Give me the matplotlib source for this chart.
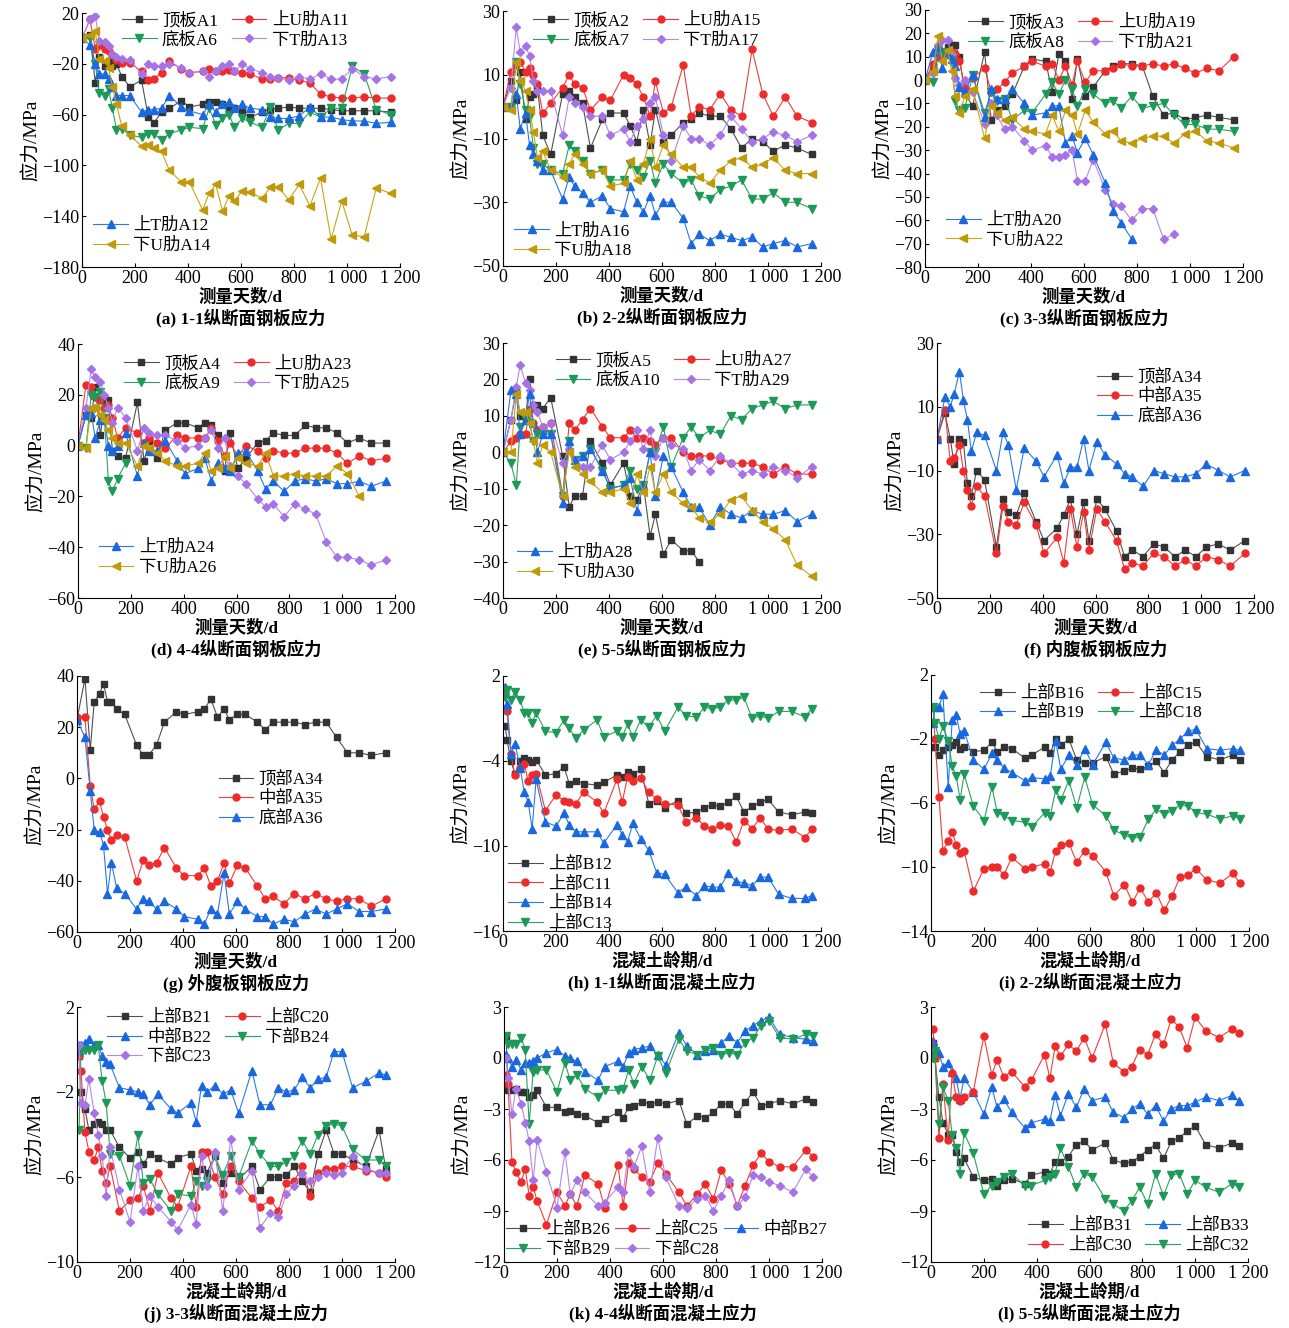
import matplotlib
matplotlib.use("Agg")
import matplotlib.pyplot as plt

plt.rcParams['font.family'] = ['Liberation Serif', 'Noto Sans CJK SC']
plt.rcParams['axes.unicode_minus'] = True

# 测量天数 (钢板)
D = [0, 30, 50, 65, 85, 100, 115, 130, 150, 180,
     225, 250, 270, 300, 330, 375, 405, 455, 480, 505,
     530, 555, 575, 605, 635, 680, 710, 740, 780, 820,
     860, 900, 940, 980, 1020, 1065, 1110, 1165]
# 混凝土龄期
C = [8, 15, 30, 45, 65, 80, 95, 110, 125, 160,
     200, 230, 250, 275, 305, 355, 380, 430, 450, 470,
     490, 520, 550, 580, 610, 660, 690, 730, 760, 790,
     820, 850, 880, 910, 940, 970, 1000, 1040, 1090, 1140,
     1165]

# (a)
A1 = [0, 3, -35, -15, -22, -18, -22, -20, -30, -38,
      -33, -62, -67, -58, -55, -49, -54, -52, -50, -50,
      -52, -55, -55, -58, -62, -58, -56, -55, -54, -55,
      -55, -55, -56, -57, -57, -57, -57, -58]
A11 = [0, 15, -8, -5, -8, -10, -13, -17, -19, -19,
       -26, -33, -32, -27, -18, -24, -27, -26, -24, -26,
       -26, -25, -26, -27, -28, -32, -32, -31, -31, -33,
       -35, -44, -46, -47, -47, -46, -47, -47]
A6 = [0, 0, -20, -43, -45, -40, -55, -72, -71, -76,
      -78, -75, -75, -80, -75, -72, -70, -71, -55, -68,
      -63, -60, -70, -63, -66, -70, -54, -72, -67, -67,
      -58, -62, -55, -55, -22, -28, -56, -60]
A13 = [0, 15, 18, -2, -3, -6, -12, -15, -16, -17,
       -28, -20, -22, -22, -20, -23, -27, -26, -30, -26,
       -22, -20, -26, -20, -24, -27, -30, -31, -33, -30,
       -32, -28, -32, -32, -24, -30, -32, -30]
A12 = [0, -5, -20, -28, -28, -32, -38, -45, -45, -45,
       -58, -56, -56, -55, -45, -54, -57, -60, -52, -58,
       -52, -50, -55, -52, -55, -56, -62, -63, -63, -61,
       -54, -62, -62, -64, -65, -65, -67, -66]
A14 = [0, 3, 6, -16, -18, -23, -38, -52, -69, -76,
       -85, -84, -86, -89, -104, -113, -113, -135, -122, -115,
       -136, -124, -128, -120, -121, -126, -117, -117, -127, -115,
       -132, -110, -158, -128, -155, -156, -118, -122]
# (b)
A2 = [0, 8, 2, 11, -4, 3, 4, 6, -9, -15,
      4, 5, 3, 1, -13, -4, -2, -2, -6, -11,
      -1, -12, -1, -11, -9, -5, -4, -2, -3, -3,
      -7, -13, -10, -11, -14, -12, -13, -15]
A15 = [0, 11, 13, 14, 11, 12, 10, 7, -2, 1,
       6, 10, 7, 6, -1, 3, 2, 10, 9, 7,
       3, -3, 8, -2, 0, 13, -3, 0, -1, 4,
       -1, -3, 18, 4, -3, 3, -3, -5]
A7 = [0, 0, 14, 7, -1, -3, -13, -18, -18, -20,
      -21, -12, -14, -17, -21, -20, -23, -23, -18, -20,
      -22, -17, -24, -18, -21, -24, -23, -28, -29, -26,
      -25, -23, -29, -29, -27, -30, -30, -32]
A17 = [0, 6, 25, 17, 19, 16, 8, 5, 5, 5,
       -9, 3, 1, 0, -3, -3, -9, -7, -11, -6,
       -4, 1, 3, -9, -17, -6, -10, -10, -12, -9,
       -3, -7, -11, -10, -8, -9, -11, -9]
A16 = [0, 0, 4, -7, -2, -12, -15, -17, -20, -20,
       -29, -22, -25, -27, -30, -28, -32, -33, -25, -30,
       -33, -28, -34, -30, -30, -35, -43, -40, -42, -40,
       -41, -42, -41, -44, -43, -42, -44, -43]
A18 = [0, -1, 14, 8, 5, -1, -8, -16, -14, -20,
       -22, -18, -15, -18, -21, -20, -25, -24, -17, -23,
       -18, -10, -19, -12, -15, -19, -19, -22, -24, -20,
       -17, -16, -19, -18, -16, -20, -21, -21]
# (c)
A3 = [0, 5, 10, 12, 14, 15, 15, 10, -6, -11,
      12, -17, -13, -11, -6, 6, 9, 8, -5, 11,
      8, -8, 9, -7, -3, 4, 6, 7, 7, 6,
      -7, -15, -14, -17, -16, -15, -16, -17]
A19 = [0, 7, 10, 11, 12, 12, 11, 8, -3, 1,
       5, -5, -4, -1, 3, 6, 8, 6, 7, 0,
       6, -2, 8, -1, 4, 4, 5, 7, 6, 6,
       7, 6, 7, 5, 3, 5, 4, 10]
A8 = [0, -1, 13, 12, 11, 8, -9, -13, -12, 2,
      -14, -5, -9, -8, -17, -13, -14, -6, -1, -6,
      0, -4, -11, -4, -6, -10, -9, -12, -7, -12,
      -11, -10, -15, -19, -19, -21, -21, -22]
A21 = [0, 3, 15, 17, 17, 11, 1, -2, 0, -5,
       -19, -10, -15, -21, -20, -26, -30, -28, -33, -33,
       -32, -30, -43, -43, -34, -47, -53, -54, -60, -55,
       -55, -68, -66]
A20 = [0, 12, 14, 5, 11, 9, 6, -3, -5, 2,
       -16, -4, -8, -8, -4, -10, -15, -14, -11, -11,
       -27, -24, -31, -25, -32, -44, -56, -61, -68]
A22 = [0, 4, 19, 8, 13, 4, -7, -14, -7, -4,
       -25, -11, -14, -17, -16, -21, -22, -23, -15, -22,
       -13, -15, -23, -13, -18, -23, -22, -26, -27, -25,
       -24, -24, -27, -23, -22, -26, -27, -29]
# (d)
A4 = [0, 12, 11, 23, 4, 18, 18, -2, -4, -5,
      17, -6, 2, -5, 6, 9, 9, 7, 9, 8,
      4, -10, 5, -9, -5, 1, 2, 5, 4, 4,
      8, 7, 7, 5, 1, 3, 1, 1]
A23 = [0, 24, 23, 19, 18, 15, 16, 11, 3, 7,
       5, 1, 3, 1, -1, 4, 3, 3, 3, 7,
       2, -4, 1, -4, 0, -2, -5, -2, -3, -3,
       -1, -1, -1, -3, -7, -4, -6, -5]
A9 = [0, -1, 20, 19, 21, 11, -14, -18, -13, -7]
A25 = [0, 15, 30, 27, 25, 20, 15, 9, 15, 11,
       -2, 7, 5, 4, 4, 2, -1, 0, 3, 6,
       -1, 3, -8, -12, -15, -21, -24, -23, -28, -23,
       -25, -27, -38, -44, -44, -45, -47, -45]
A24 = [0, 12, 13, 3, 10, 11, 0, -2, 0, 5,
       -12, 1, -2, -2, 2, -6, -11, -9, -5, -14,
       -7, -9, -10, -3, -2, -10, -17, -14, -18, -14,
       -13, -14, -13, -15, -15, -14, -16, -14]
A26 = [0, -1, 15, 15, 12, 10, 6, 3, 1, 1,
       -8, 0, -1, -3, -6, -8, -8, -7, -3, -10,
       -9, -4, -9, -5, -7, -8, -3, -12, -12, -11,
       -12, -12, -12, -8, -11, -20]
# (e)
A5 = [0, 9, 17, 10, 9, 20, 13, 13, 12, 15,
      -1, -15, -12, -12, 3, -3, -9, -3, -12, -13,
      -9, -23, -17, -28, -24, -27, -27, -30]
A27 = [0, 3, 4, 5, 5, 12, 8, 6, 7, 8,
       -12, 8, 6, 9, 12, 7, 4, 4, 6, 4,
       4, 3, 2, 4, 4, 0, -1, -1, -1, -2,
       -3, -3, -3, -4, -6, -4, -6, -6]
A10 = [0, -3, -9, 7, 9, 8, 3, 5, 5, 5,
       -12, 3, -2, -1, 1, -5, -10, -9, -5, -10,
       -9, 0, 0, 7, -4, 4, 7, 4, 6, 5,
       10, 9, 12, 13, 14, 12, 13, 13]
A29 = [0, 9, 18, 24, 19, 17, 13, 11, 7, 8,
       -3, 1, -2, -4, -4, 2, -2, 0, 3, 6,
       1, 6, -1, 4, 2, 1, -5, -2, -5, -1,
       -3, -6, -5, -6, -4, -5, -7, -4]
A28 = [0, 17, 16, 5, 9, 16, 8, 0, 5, 5,
       -14, 3, -2, -1, 1, -5, -10, -9, -7, -16,
       -9, 0, -12, -1, -4, -11, -15, -15, -20, -15,
       -17, -18, -16, -17, -17, -16, -19, -17]
A30 = [0, 0, 16, 11, 11, 8, 3, -3, 2, 0,
       -12, 0, -4, -6, -8, -11, -11, -10, -14, -6,
       -11, -4, -11, -6, -11, -14, -15, -18, -19, -17,
       -13, -12, -16, -19, -21, -24, -31, -34]
# (f) 内腹板
F34 = [0, 8, 0, -8, 0, -1, -14, -18, -10, -13,
       -34, -19, -23, -24, -17, -26, -32, -28, -24, -19,
       -30, -20, -32, -19, -22, -29, -37, -35, -37, -33,
       -34, -37, -35, -37, -34, -33, -35, -32]
F35 = [0, 9, -7, -6, -2, -10, -16, -21, -15, -18,
       -36, -21, -26, -27, -20, -27, -36, -31, -39, -22,
       -34, -23, -35, -22, -26, -32, -41, -39, -40, -36,
       -37, -40, -38, -40, -37, -38, -40, -36]
F36 = [0, 13, 10, 14, 21, 12, 6, -4, 2, 1,
       -10, 2, -2, -16, -3, -7, -12, -5, -14, -9,
       -9, 0, -10, -1, -5, -8, -11, -12, -15, -10,
       -11, -12, -12, -11, -8, -10, -12, -10]
# (g) 外腹板
G34 = [23, 39, 11, 30, 33, 37, 30, 30, 27, 25,
       13, 9, 9, 13, 22, 26, 25, 26, 27, 31,
       24, 27, 23, 25, 25, 22, 19, 22, 22, 22,
       21, 22, 22, 16, 10, 10, 9, 10]
G35 = [24, 24, -3, -12, -9, -15, -20, -24, -22, -23,
       -40, -32, -34, -33, -27, -35, -38, -38, -35, -42,
       -40, -33, -41, -34, -35, -42, -47, -46, -49, -45,
       -47, -45, -47, -48, -47, -47, -50, -47]
G36 = [23, 16, -5, -20, -21, -26, -45, -33, -43, -45,
       -51, -47, -48, -51, -48, -51, -54, -55, -57, -51,
       -53, -37, -53, -48, -51, -54, -54, -57, -55, -56,
       -53, -51, -53, -51, -49, -52, -52, -51]
# (h)
B12 = [-1.5, -2.5, -4.0, -4.9, -4.0, -3.8, -3.9, -4.1, -3.9, -5.0,
       -4.9, -4.4, -5.6, -5.4, -5.6, -5.7, -5.5, -5.0, -5.1, -4.8,
       -4.9, -4.6, -7.0, -6.8, -7.3, -6.8, -7.7, -7.6, -7.3, -7.1,
       -7.2, -6.9, -6.5, -7.6, -7.2, -6.9, -6.7, -7.6, -7.8, -7.6,
       -7.7]
C11 = [1.0, -0.5, -3.5, -5.0, -4.5, -4.2, -5.4, -5.0, -4.9, -7.5,
       -6.4, -6.8, -6.9, -7.0, -6.2, -6.9, -7.7, -5.3, -6.9, -5.1,
       -5.4, -5.2, -6.2, -6.7, -7.0, -7.1, -8.3, -8.0, -8.6, -8.8,
       -8.5, -8.6, -9.7, -8.2, -8.8, -8.0, -8.8, -8.9, -8.8, -9.4,
       -8.8]
B14 = [1.2, 0.0, -3.5, -2.8, -4.5, -6.2, -6.9, -8.8, -5.3, -8.3,
       -8.6, -7.7, -8.5, -9.0, -9.0, -9.0, -9.8, -8.5, -9.2, -9.7,
       -8.4, -9.5, -10.3, -11.9, -12.0, -13.3, -12.9, -13.5, -12.8, -12.9,
       -12.9, -11.9, -12.5, -12.6, -12.8, -12.2, -12.2, -13.4, -13.7, -13.7,
       -13.5]
C13 = [0.5, 1.0, 0.3, 0.9, 0.3, -0.6, -0.6, -1.3, -0.6, -1.9,
       -2.0, -1.1, -1.7, -2.4, -1.8, -1.1, -2.3, -1.9, -2.3, -1.4,
       -2.3, -1.1, -1.6, -0.8, -1.9, -0.2, -0.8, -0.9, -0.2, -0.3,
       -0.2, 0.3, 0.3, 0.5, -1.0, -0.8, -1.0, -0.5, -0.5, -0.9,
       -0.3]
# (i)
B16 = [-2.5, -2.5, -3.0, -2.7, -2.5, -2.4, -2.2, -2.6, -2.5, -2.8,
       -2.7, -2.2, -2.8, -2.5, -2.6, -3.2, -3.0, -2.5, -2.9, -2.0,
       -2.4, -2.0, -3.3, -3.5, -3.5, -3.1, -4.2, -4.0, -3.8, -3.9,
       -3.7, -3.4, -4.1, -3.3, -2.8, -2.4, -2.2, -3.1, -3.3, -3.0,
       -3.3]
C15 = [0.0, -2.0, -5.6, -9.0, -8.4, -7.8, -8.6, -9.1, -9.0, -11.5,
       -10.1, -10.0, -10.0, -10.5, -9.4, -10.1, -10.0, -9.8, -10.3, -9.0,
       -8.6, -8.5, -9.7, -9.0, -9.3, -10.3, -11.8, -11.1, -12.2, -11.3,
       -12.2, -11.6, -12.7, -11.8, -10.6, -10.5, -10.1, -10.8, -11.0, -10.4,
       -11.0]
B19 = [-1.0, 0.0, 0.0, 0.8, -5.0, -0.8, -0.5, -1.7, -1.5, -3.3,
       -3.9, -2.9, -3.3, -3.8, -4.1, -4.6, -4.4, -4.5, -4.3, -2.1,
       -3.9, -3.0, -3.6, -2.6, -3.6, -2.2, -3.2, -3.3, -3.0, -3.0,
       -3.6, -2.7, -3.0, -2.4, -2.0, -1.5, -1.4, -2.6, -2.7, -2.6,
       -2.7]
C18 = [0.0, -1.0, -2.0, -1.2, -2.1, -3.7, -4.3, -5.8, -4.2, -6.2,
       -7.1, -5.0, -6.6, -6.8, -7.1, -7.2, -7.5, -6.6, -6.8, -5.2,
       -5.8, -4.6, -6.3, -4.4, -6.1, -6.8, -7.7, -8.0, -8.2, -8.1,
       -7.0, -6.4, -6.7, -6.5, -6.1, -6.2, -6.6, -6.7, -7.0, -6.8,
       -7.0]
# (j)
B21 = [-0.3, -2.0, -2.8, -3.8, -3.5, -3.4, -3.5, -3.8, -3.8, -4.6,
       -5.1, -4.8, -5.4, -4.9, -5.1, -5.4, -5.1, -4.9, -5.7, -5.6,
       -5.8, -5.0, -6.3, -5.8, -6.1, -5.5, -6.6, -6.0, -6.0, -5.9,
       -5.5, -6.2, -6.7, -4.9, -3.8, -4.9, -4.9, -5.2, -5.5, -3.8,
       -5.6]
C20 = [-0.3, -1.0, -3.9, -4.8, -5.2, -4.6, -5.7, -6.3, -5.5, -7.6,
       -7.1, -7.0, -6.4, -7.6, -5.8, -7.0, -7.4, -5.5, -7.4, -4.8,
       -4.8, -6.0, -6.8, -5.5, -6.2, -7.0, -7.4, -7.1, -7.6, -6.3,
       -6.2, -5.5, -6.9, -5.8, -5.6, -5.6, -5.5, -5.5, -5.7, -5.8,
       -6.0]
B22 = [0.0, 0.2, 0.3, 0.5, 0.2, 0.2, -0.3, -0.6, -0.7, -1.8,
       -1.9, -2.0, -2.1, -2.6, -2.1, -2.8, -3.0, -2.5, -3.4, -1.7,
       -2.0, -1.7, -2.1, -1.9, -3.0, -1.0, -2.6, -2.6, -1.8, -2.0,
       -1.9, -1.3, -1.8, -1.4, -1.3, -0.1, -0.1, -1.8, -1.5, -1.1,
       -1.2]
B24 = [-3.8, 0.0, 0.0, 0.0, 0.0, 0.2, -1.5, -2.5, -4.9, -5.0,
       -6.4, -4.0, -6.3, -6.1, -6.8, -7.6, -6.8, -6.9, -6.2, -6.4,
       -6.2, -5.0, -5.9, -5.0, -6.0, -4.3, -4.9, -5.5, -5.5, -5.3,
       -5.0, -4.3, -4.9, -4.0, -3.6, -3.5, -3.6, -4.7, -5.2, -5.2,
       -5.5]
C23 = [0.2, -2.5, -2.6, -1.4, -3.0, -4.0, -5.0, -6.9, -4.6, -6.6,
       -8.1, -5.5, -7.6, -6.9, -7.4, -8.1, -8.5, -7.3, -8.2, -5.0,
       -6.4, -4.8, -7.6, -4.2, -6.6, -5.7, -8.4, -7.7, -7.9, -6.8,
       -6.4, -5.8, -6.2, -6.0, -5.8, -5.9, -5.8, -5.0, -5.6, -5.8,
       -5.8]
# (k)
B26 = [1.3, -1.9, -1.9, -1.8, -2.0, -2.0, -2.3, -2.2, -1.9, -2.9,
       -2.9, -3.2, -3.1, -3.3, -3.4, -3.8, -3.6, -3.2, -3.5, -2.9,
       -2.8, -2.6, -2.7, -2.6, -2.7, -2.5, -3.9, -3.4, -3.5, -3.2,
       -2.7, -2.7, -3.3, -2.6, -2.0, -2.8, -2.7, -2.5, -2.7, -2.4,
       -2.6]
C25 = [-1.0, -1.5, -6.1, -6.7, -7.3, -6.5, -8.1, -7.6, -8.4, -9.8,
       -7.9, -8.7, -8.0, -8.7, -6.9, -7.4, -8.8, -6.3, -8.7, -6.2,
       -6.5, -7.0, -7.3, -6.2, -6.8, -7.9, -8.7, -8.0, -7.4, -8.3,
       -6.6, -7.4, -8.7, -7.5, -6.3, -5.6, -6.1, -6.4, -6.4, -5.4,
       -5.8]
B27 = [0.2, 0.0, -0.5, -0.1, -0.7, -0.3, -0.3, -0.2, 0.0, 0.3,
       0.5, 0.1, 0.0, -0.2, -0.8, -1.3, -0.5, -0.2, -0.5, 0.3,
       0.5, 0.6, 0.7, 0.2, -0.4, 1.5, 0.7, 0.2, 0.4, 0.5,
       0.9, 1.3, 0.9, 1.6, 1.9, 2.2, 2.4, 1.4, 1.2, 1.1,
       1.0]
B29 = [1.3, 0.8, 0.8, 0.8, 1.2, 0.5, -3.9, -0.8, -0.7, -0.7,
       -2.0, -0.3, -1.3, -1.0, -1.8, -2.3, -1.9, -1.9, -1.8, -0.7,
       -1.5, -0.5, -1.3, 0.1, -0.9, 1.1, 0.4, 0.2, 0.5, 0.6,
       0.2, 0.3, 0.2, 0.9, 1.2, 1.9, 2.2, 1.2, 1.1, 1.4,
       1.3]
C28 = [0.0, -1.2, -3.3, -1.8, -2.7, -3.8, -4.9, -7.2, -4.8, -6.7,
       -8.8, -5.5, -8.0, -7.2, -7.9, -8.7, -8.5, -7.6, -7.9, -5.5,
       -6.4, -5.2, -7.9, -4.7, -7.0, -8.7, -8.8, -8.3, -8.1, -9.0,
       -8.1, -7.2, -8.7, -8.2, -6.9, -7.0, -7.3, -7.5, -7.9, -6.5,
       -7.0]
# (l)
B31 = [0.9, 0.0, -2.3, -3.8, -4.5, -4.5, -5.5, -6.1, -5.9, -7.0,
       -7.2, -7.1, -7.5, -7.2, -7.1, -7.4, -6.9, -6.7, -6.8, -6.1,
       -6.1, -5.8, -5.1, -4.9, -5.4, -5.0, -6.0, -6.2, -6.1, -5.8,
       -5.4, -5.1, -5.9, -4.9, -4.7, -4.3, -4.0, -5.1, -5.3, -5.0,
       -5.2]
B33 = [1.0, 0.5, 0.3, -0.5, -0.3, -0.8, -1.2, -2.4, -1.2, -2.0,
       -3.3, -1.7, -2.9, -2.4, -3.2, -4.1, -3.8, -3.6, -3.7, -2.2,
       -3.4, -2.1, -2.9, -1.8, -2.5, -2.3, -3.2, -3.5, -3.0, -2.7,
       -3.3, -2.8, -3.7, -3.0, -2.8, -2.8, -2.6, -2.3, -2.5, -2.2,
       -2.5]
C30 = [1.7, 0.0, -4.7, -1.5, -4.8, -0.9, -2.3, -2.5, -2.3, -2.0,
       1.3, -1.0, -0.1, -1.1, -0.8, -1.7, -1.3, 0.2, -1.2, 0.7,
       0.1, 0.8, 0.4, 1.2, 0.0, 2.0, -0.3, -0.8, -0.5, 0.5,
       0.2, 1.4, 0.8, 2.3, 1.8, 0.6, 2.4, 1.6, 1.2, 1.7,
       1.5]
C32 = [0.0, 0.4, -3.9, -1.7, -2.5, -4.5, -5.3, -6.8, -4.4, -5.6,
       -8.0, -7.5, -7.3, -7.0, -6.8, -7.5, -7.5, -7.2, -7.0, -6.8,
       -5.3, -6.4, -7.6, -6.8, -7.0, -8.3, -8.6, -9.0, -8.4, -7.6,
       -8.6, -6.8, -8.1, -6.9, -6.8, -8.0, -7.2, -7.6, -7.9, -7.4,
       -7.6]

# 线型
STY = {
    'k': dict(color='#505050', marker='s', ms=4.5, mfc='#333333', mec='#333333'),
    'r': dict(color='#f03c3c', marker='o', ms=5, mfc='#ee2a2a', mec='#ee2a2a'),
    'g': dict(color='#2aa262', marker='v', ms=5.5, mfc='#1e9a58', mec='#1e9a58'),
    'p': dict(color='#b488ec', marker='D', ms=4.5, mfc='#a673e6', mec='#a673e6'),
    'b': dict(color='#2a78e6', marker='^', ms=5.5, mfc='#1a68e0', mec='#1a68e0'),
    'y': dict(color='#caa414', marker='<', ms=5.5, mfc='#c09a0a', mec='#c09a0a'),
}

W, H = 1289, 1328
fig = plt.figure(figsize=(W / 100, H / 100), dpi=100)
FS = 12.5
TFS = 13


def make_ax(l, t, r, b):
    return fig.add_axes([l / W, 1 - b / H, (r - l) / W, (b - t) / H])


def panel(box, x, series, ylim, ystep, xlabel, caption, legends, colsp=0.8):
    ax = make_ax(*box)
    lines = {}
    for lab, vals, st in series:
        n = min(len(x), len(vals))
        ln, = ax.plot(x[:n], vals[:n], lw=0.8, label=lab, **STY[st])
        lines[lab] = ln
    ax.set_xlim(0, 1200)
    ax.set_ylim(*ylim)
    ax.set_xticks(range(0, 1201, 200))
    ax.set_xticklabels(['0', '200', '400', '600', '800', '1 000', '1 200'])
    yt = list(range(ylim[0], ylim[1] + 1, ystep))
    ax.set_yticks(yt)
    ax.set_yticklabels([str(v).replace('-', '\u2212') for v in yt])
    ax.tick_params(direction='in', length=3, width=0.8, labelsize=TFS, pad=2)
    for s in ['top', 'right']:
        ax.spines[s].set_visible(False)
    for s in ['left', 'bottom']:
        ax.spines[s].set_linewidth(0.8)
    ax.set_ylabel('应力/MPa', fontsize=14, labelpad=1)
    cx = (box[0] + box[2]) / 2 / W
    fig.text(cx, 1 - (box[3] + 30) / H, xlabel, ha='center', va='center',
             fontsize=FS, fontweight='bold')
    fig.text(cx, 1 - (box[3] + 51) / H, caption, ha='center', va='center',
             fontsize=FS, fontweight='bold')
    legs = []
    for labs, loc, anchor, ncol in legends:
        lg = ax.legend(handles=[lines[k] for k in labs], loc=loc,
                       bbox_to_anchor=anchor, ncol=ncol, frameon=False,
                       fontsize=FS, handlelength=2.0, handletextpad=0.3,
                       columnspacing=colsp, labelspacing=0.2, borderpad=0.1,
                       borderaxespad=0)
        legs.append(lg)
    for lg in legs[:-1]:
        ax.add_artist(lg)
    return ax


XS = '测量天数/d'
XC = '混凝土龄期/d'

panel((82, 13, 400, 267), D,
      [('顶板A1', A1, 'k'), ('上U肋A11', A11, 'r'), ('底板A6', A6, 'g'),
       ('下T肋A13', A13, 'p'), ('上T肋A12', A12, 'b'), ('下U肋A14', A14, 'y')],
      (-180, 20), 40, XS, '(a) 1-1纵断面钢板应力',
      [(['顶板A1', '底板A6', '上U肋A11', '下T肋A13'], 'upper left', (0.12, 1.01), 2),
       (['上T肋A12', '下U肋A14'], 'lower left', (0.03, 0.045), 1)])

panel((503, 11, 821, 266), D,
      [('顶板A2', A2, 'k'), ('上U肋A15', A15, 'r'), ('底板A7', A7, 'g'),
       ('下T肋A17', A17, 'p'), ('上T肋A16', A16, 'b'), ('下U肋A18', A18, 'y')],
      (-50, 30), 20, XS, '(b) 2-2纵断面钢板应力',
      [(['顶板A2', '底板A7', '上U肋A15', '下T肋A17'], 'upper left', (0.09, 1.0), 2),
       (['上T肋A16', '下U肋A18'], 'lower left', (0.03, 0.02), 1)])

panel((925, 10, 1243, 267), D,
      [('顶板A3', A3, 'k'), ('上U肋A19', A19, 'r'), ('底板A8', A8, 'g'),
       ('下T肋A21', A21, 'p'), ('上T肋A20', A20, 'b'), ('下U肋A22', A22, 'y')],
      (-80, 30), 10, XS, '(c) 3-3纵断面钢板应力',
      [(['顶板A3', '底板A8', '上U肋A19', '下T肋A21'], 'upper left', (0.13, 0.99), 2),
       (['上T肋A20', '下U肋A22'], 'lower left', (0.06, 0.065), 1)])

panel((78, 344, 395, 598), D,
      [('顶板A4', A4, 'k'), ('上U肋A23', A23, 'r'), ('底板A9', A9, 'g'),
       ('下T肋A25', A25, 'p'), ('上T肋A24', A24, 'b'), ('下U肋A26', A26, 'y')],
      (-60, 40), 20, XS, '(d) 4-4纵断面钢板应力',
      [(['顶板A4', '底板A9', '上U肋A23', '下T肋A25'], 'upper left', (0.14, 0.96), 2),
       (['上T肋A24', '下U肋A26'], 'lower left', (0.06, 0.08), 1)])

panel((503, 343, 821, 598), D,
      [('顶板A5', A5, 'k'), ('上U肋A27', A27, 'r'), ('底板A10', A10, 'g'),
       ('下T肋A29', A29, 'p'), ('上T肋A28', A28, 'b'), ('下U肋A30', A30, 'y')],
      (-40, 30), 10, XS, '(e) 5-5纵断面钢板应力',
      [(['顶板A5', '底板A10', '上U肋A27', '下T肋A29'], 'upper left', (0.16, 0.97), 2),
       (['上T肋A28', '下U肋A30'], 'lower left', (0.04, 0.06), 1)])

panel((937, 343, 1254, 598), D,
      [('顶部A34', F34, 'k'), ('中部A35', F35, 'r'), ('底部A36', F36, 'b')],
      (-50, 30), 20, XS, '(f) 内腹板钢板应力',
      [(['顶部A34', '中部A35', '底部A36'], 'upper left', (0.5, 0.905), 1)])

panel((77, 676, 395, 932), D,
      [('顶部A34', G34, 'k'), ('中部A35', G35, 'r'), ('底部A36', G36, 'b')],
      (-60, 40), 20, XS, '(g) 外腹板钢板应力',
      [(['顶部A34', '中部A35', '底部A36'], 'upper left', (0.44, 0.635), 1)])

panel((503, 676, 821, 931), C,
      [('上部B12', B12, 'k'), ('上部C11', C11, 'r'), ('上部B14', B14, 'b'),
       ('上部C13', C13, 'g')],
      (-16, 2), 6, XC, '(h) 1-1纵断面混凝土应力',
      [(['上部B12', '上部C11', '上部B14', '上部C13'], 'lower left', (0.01, -0.01), 1)])

panel((931, 675, 1249, 931), C,
      [('上部B16', B16, 'k'), ('上部C15', C15, 'r'), ('上部B19', B19, 'b'),
       ('上部C18', C18, 'g')],
      (-14, 2), 4, XC, '(i) 2-2纵断面混凝土应力',
      [(['上部B16', '上部B19', '上部C15', '上部C18'], 'upper left', (0.15, 0.965), 2)])

panel((77, 1007, 395, 1262), C,
      [('上部B21', B21, 'k'), ('上部C20', C20, 'r'), ('中部B22', B22, 'b'),
       ('下部B24', B24, 'g'), ('下部C23', C23, 'p')],
      (-10, 2), 4, XC, '(j) 3-3纵断面混凝土应力',
      [(['上部B21', '中部B22', '下部C23', '上部C20', '下部B24'], 'upper left', (0.09, 0.995), 2)])

panel((504, 1007, 822, 1262), C,
      [('上部B26', B26, 'k'), ('上部C25', C25, 'r'), ('中部B27', B27, 'b'),
       ('下部B29', B29, 'g'), ('下部C28', C28, 'p')],
      (-12, 3), 3, XC, '(k) 4-4纵断面混凝土应力',
      [(['上部B26', '下部B29', '上部C25', '下部C28', '中部B27'], 'lower left', (0.0, 0.01), 3)],
      colsp=0.3)

panel((931, 1007, 1248, 1262), C,
      [('上部B31', B31, 'k'), ('上部B33', B33, 'b'), ('上部C30', C30, 'r'),
       ('上部C32', C32, 'g')],
      (-12, 3), 3, XC, '(l) 5-5纵断面混凝土应力',
      [(['上部B31', '上部C30', '上部B33', '上部C32'], 'lower left', (0.3, 0.025), 2)])

fig.savefig('out.png', dpi=100)
